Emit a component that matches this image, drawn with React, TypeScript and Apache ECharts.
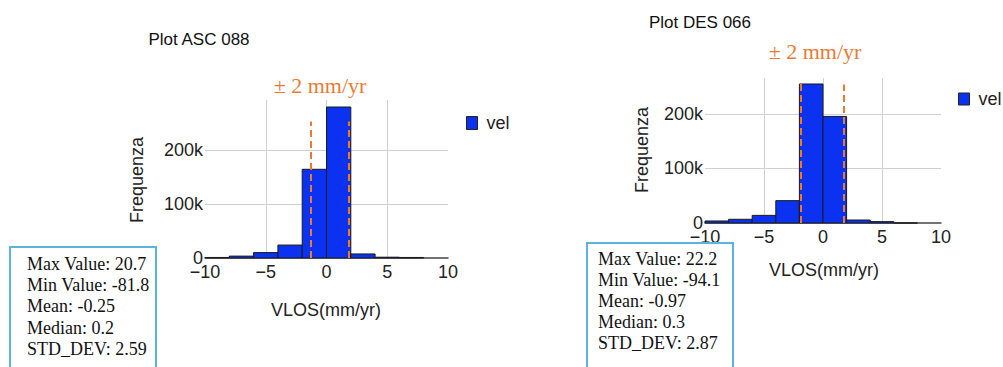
import React, { useEffect, useRef } from "react";
import * as echarts from "echarts";

const binStarts = [-10, -8, -6, -4, -2, 0, 2, 4, 6];
const binWidth = 2;
const ascCounts = [1000, 3500, 10000, 24000, 164500, 280000, 7500, 1500, 1000];
const desCounts = [3700, 6800, 14000, 41000, 255000, 195500, 5500, 2500, 0];
const ascLimits = [-1.3, 1.83];
const desLimits = [-1.9, 1.78];
const ascLimitTops = [253000, 253000];
const desLimitTops = [257000, 254000];
const ascStats = ["Max Value: 20.7", "Min Value: -81.8", "Mean: -0.25", "Median: 0.2", "STD_DEV: 2.59"];
const desStats = ["Max Value: 22.2", "Min Value: -94.1", "Mean: -0.97", "Median: 0.3", "STD_DEV: 2.87"];

const SANS = "'Liberation Sans', Arial, sans-serif";
const SERIF = "'Liberation Serif', 'Times New Roman', serif";
const BLUE = "#0a32f0";
const ORANGE = "#ea7a33";

function histData(counts: number[]) {
  return binStarts.map((s, i) => [s, s + binWidth, counts[i]]);
}

function renderBar(params: any, api: any) {
  const x0 = api.value(0);
  const x1 = api.value(1);
  const v = api.value(2);
  const p0 = api.coord([x0, v]);
  const p1 = api.coord([x1, 0]);
  return {
    type: "rect",
    shape: { x: p0[0], y: p0[1], width: p1[0] - p0[0], height: p1[1] - p0[1] },
    style: { fill: BLUE, stroke: "#1a1a1a", lineWidth: 1 },
  };
}

function xAxisCfg(gridIndex: number) {
  return {
    type: "value",
    gridIndex,
    min: -10,
    max: 10,
    interval: 5,
    axisLine: { show: true, lineStyle: { color: "#444", width: 1.5 } },
    axisTick: { show: false },
    axisLabel: {
      margin: 5,
      fontSize: 18,
      fontFamily: SANS,
      color: "#222",
      formatter: (v: number) => String(v).replace("-", "\u2212"),
    },
    splitLine: { show: true, showMinLine: false, showMaxLine: false, lineStyle: { color: "#d0d0d0" } },
  };
}

function yAxisCfg(gridIndex: number, max: number) {
  return {
    type: "value",
    gridIndex,
    min: 0,
    max,
    interval: 100000,
    axisLine: { show: false },
    axisTick: { show: false },
    axisLabel: {
      margin: 2,
      fontSize: 18,
      fontFamily: SANS,
      color: "#222",
      showMaxLabel: false,
      formatter: (v: number) => (v === 0 ? "0" : v / 1000 + "k"),
    },
    splitLine: { show: true, showMinLine: false, showMaxLine: false, lineStyle: { color: "#d0d0d0" } },
  };
}

function limitLines(xs: number[], tops: number[]) {
  return {
    silent: true,
    symbol: "none",
    label: { show: false },
    lineStyle: { color: ORANGE, type: [7, 4], width: 2 },
    data: xs.map((x, i) => [{ coord: [x, 0] }, { coord: [x, tops[i]] }]),
  };
}

function statsBox(x: number, y: number, pad: number, lines: string[], lineHeight: number) {
  return [
    {
      type: "rect",
      shape: { x, y, width: 146, height: 140 },
      style: { fill: "#fff", stroke: "#5bb4e0", lineWidth: 2 },
      z: 100,
    },
    {
      type: "text",
      x: x + pad,
      y: y + 6,
      z: 101,
      style: {
        text: lines.join("\n"),
        font: `18px ${SERIF}`,
        fill: "#111",
        lineHeight,
        textVerticalAlign: "top",
      },
    },
  ];
}

function label(text: string, x: number, y: number, font: string, fill: string, rotation = 0) {
  return {
    type: "text",
    x,
    y,
    rotation,
    style: { text, font, fill, textAlign: "center", textVerticalAlign: "middle" },
  };
}

export default function App() {
  const ref = useRef<HTMLDivElement>(null);
  useEffect(() => {
    document.body.style.margin = "0";
    const chart = echarts.init(ref.current!, null, { renderer: "svg" });
    chart.setOption({
      animation: false,
      backgroundColor: "#fff",
      grid: [
        { left: 205, top: 100, width: 243, height: 158 },
        { left: 705, top: 78, width: 236, height: 145 },
      ],
      xAxis: [xAxisCfg(0), xAxisCfg(1)],
      yAxis: [yAxisCfg(0, 293000), yAxisCfg(1, 266000)],
      legend: [
        {
          left: 466,
          top: 114,
          padding: 0,
          data: ["vel"],
          icon: "rect",
          itemWidth: 11,
          itemHeight: 13,
          itemGap: 4,
          itemStyle: { color: BLUE, borderColor: "#222", borderWidth: 1 },
          textStyle: { fontSize: 18, fontFamily: SANS, color: "#222", padding: [0, 0, 0, 4] },
        },
        {
          left: 958,
          top: 90,
          padding: 0,
          data: ["vel"],
          icon: "rect",
          itemWidth: 11,
          itemHeight: 12,
          itemGap: 4,
          itemStyle: { color: BLUE, borderColor: "#222", borderWidth: 1 },
          textStyle: { fontSize: 18, fontFamily: SANS, color: "#222", padding: [0, 0, 0, 4] },
        },
      ],
      series: [
        {
          name: "vel",
          type: "custom",
          xAxisIndex: 0,
          yAxisIndex: 0,
          renderItem: renderBar,
          encode: { x: [0, 1], y: 2 },
          data: histData(ascCounts),
          itemStyle: { color: BLUE },
          markLine: limitLines(ascLimits, ascLimitTops),
        },
        {
          name: "vel",
          type: "custom",
          xAxisIndex: 1,
          yAxisIndex: 1,
          renderItem: renderBar,
          encode: { x: [0, 1], y: 2 },
          data: histData(desCounts),
          itemStyle: { color: BLUE },
          markLine: limitLines(desLimits, desLimitTops),
        },
      ],
      graphic: [
        label("Plot ASC 088", 199, 39, `17px ${SANS}`, "#111"),
        label("Plot DES 066", 700, 22, `17px ${SANS}`, "#111"),
        label("\u00b1 2 mm/yr", 320, 85, `22px ${SERIF}`, ORANGE),
        label("\u00b1 2 mm/yr", 815, 51, `22px ${SERIF}`, ORANGE),
        label("Frequenza", 137, 180, `18px ${SANS}`, "#222", Math.PI / 2),
        label("Frequenza", 642, 150, `18px ${SANS}`, "#222", Math.PI / 2),
        label("VLOS(mm/yr)", 326, 310, `18px ${SANS}`, "#222"),
        label("VLOS(mm/yr)", 824, 270, `18px ${SANS}`, "#222"),
        ...statsBox(10, 247, 17, ascStats, 21.3),
        ...statsBox(587, 243, 11, desStats, 20.8),
      ],
    });
    return () => chart.dispose();
  }, []);
  return <div ref={ref} style={{ width: 1003, height: 367 }} />;
}
